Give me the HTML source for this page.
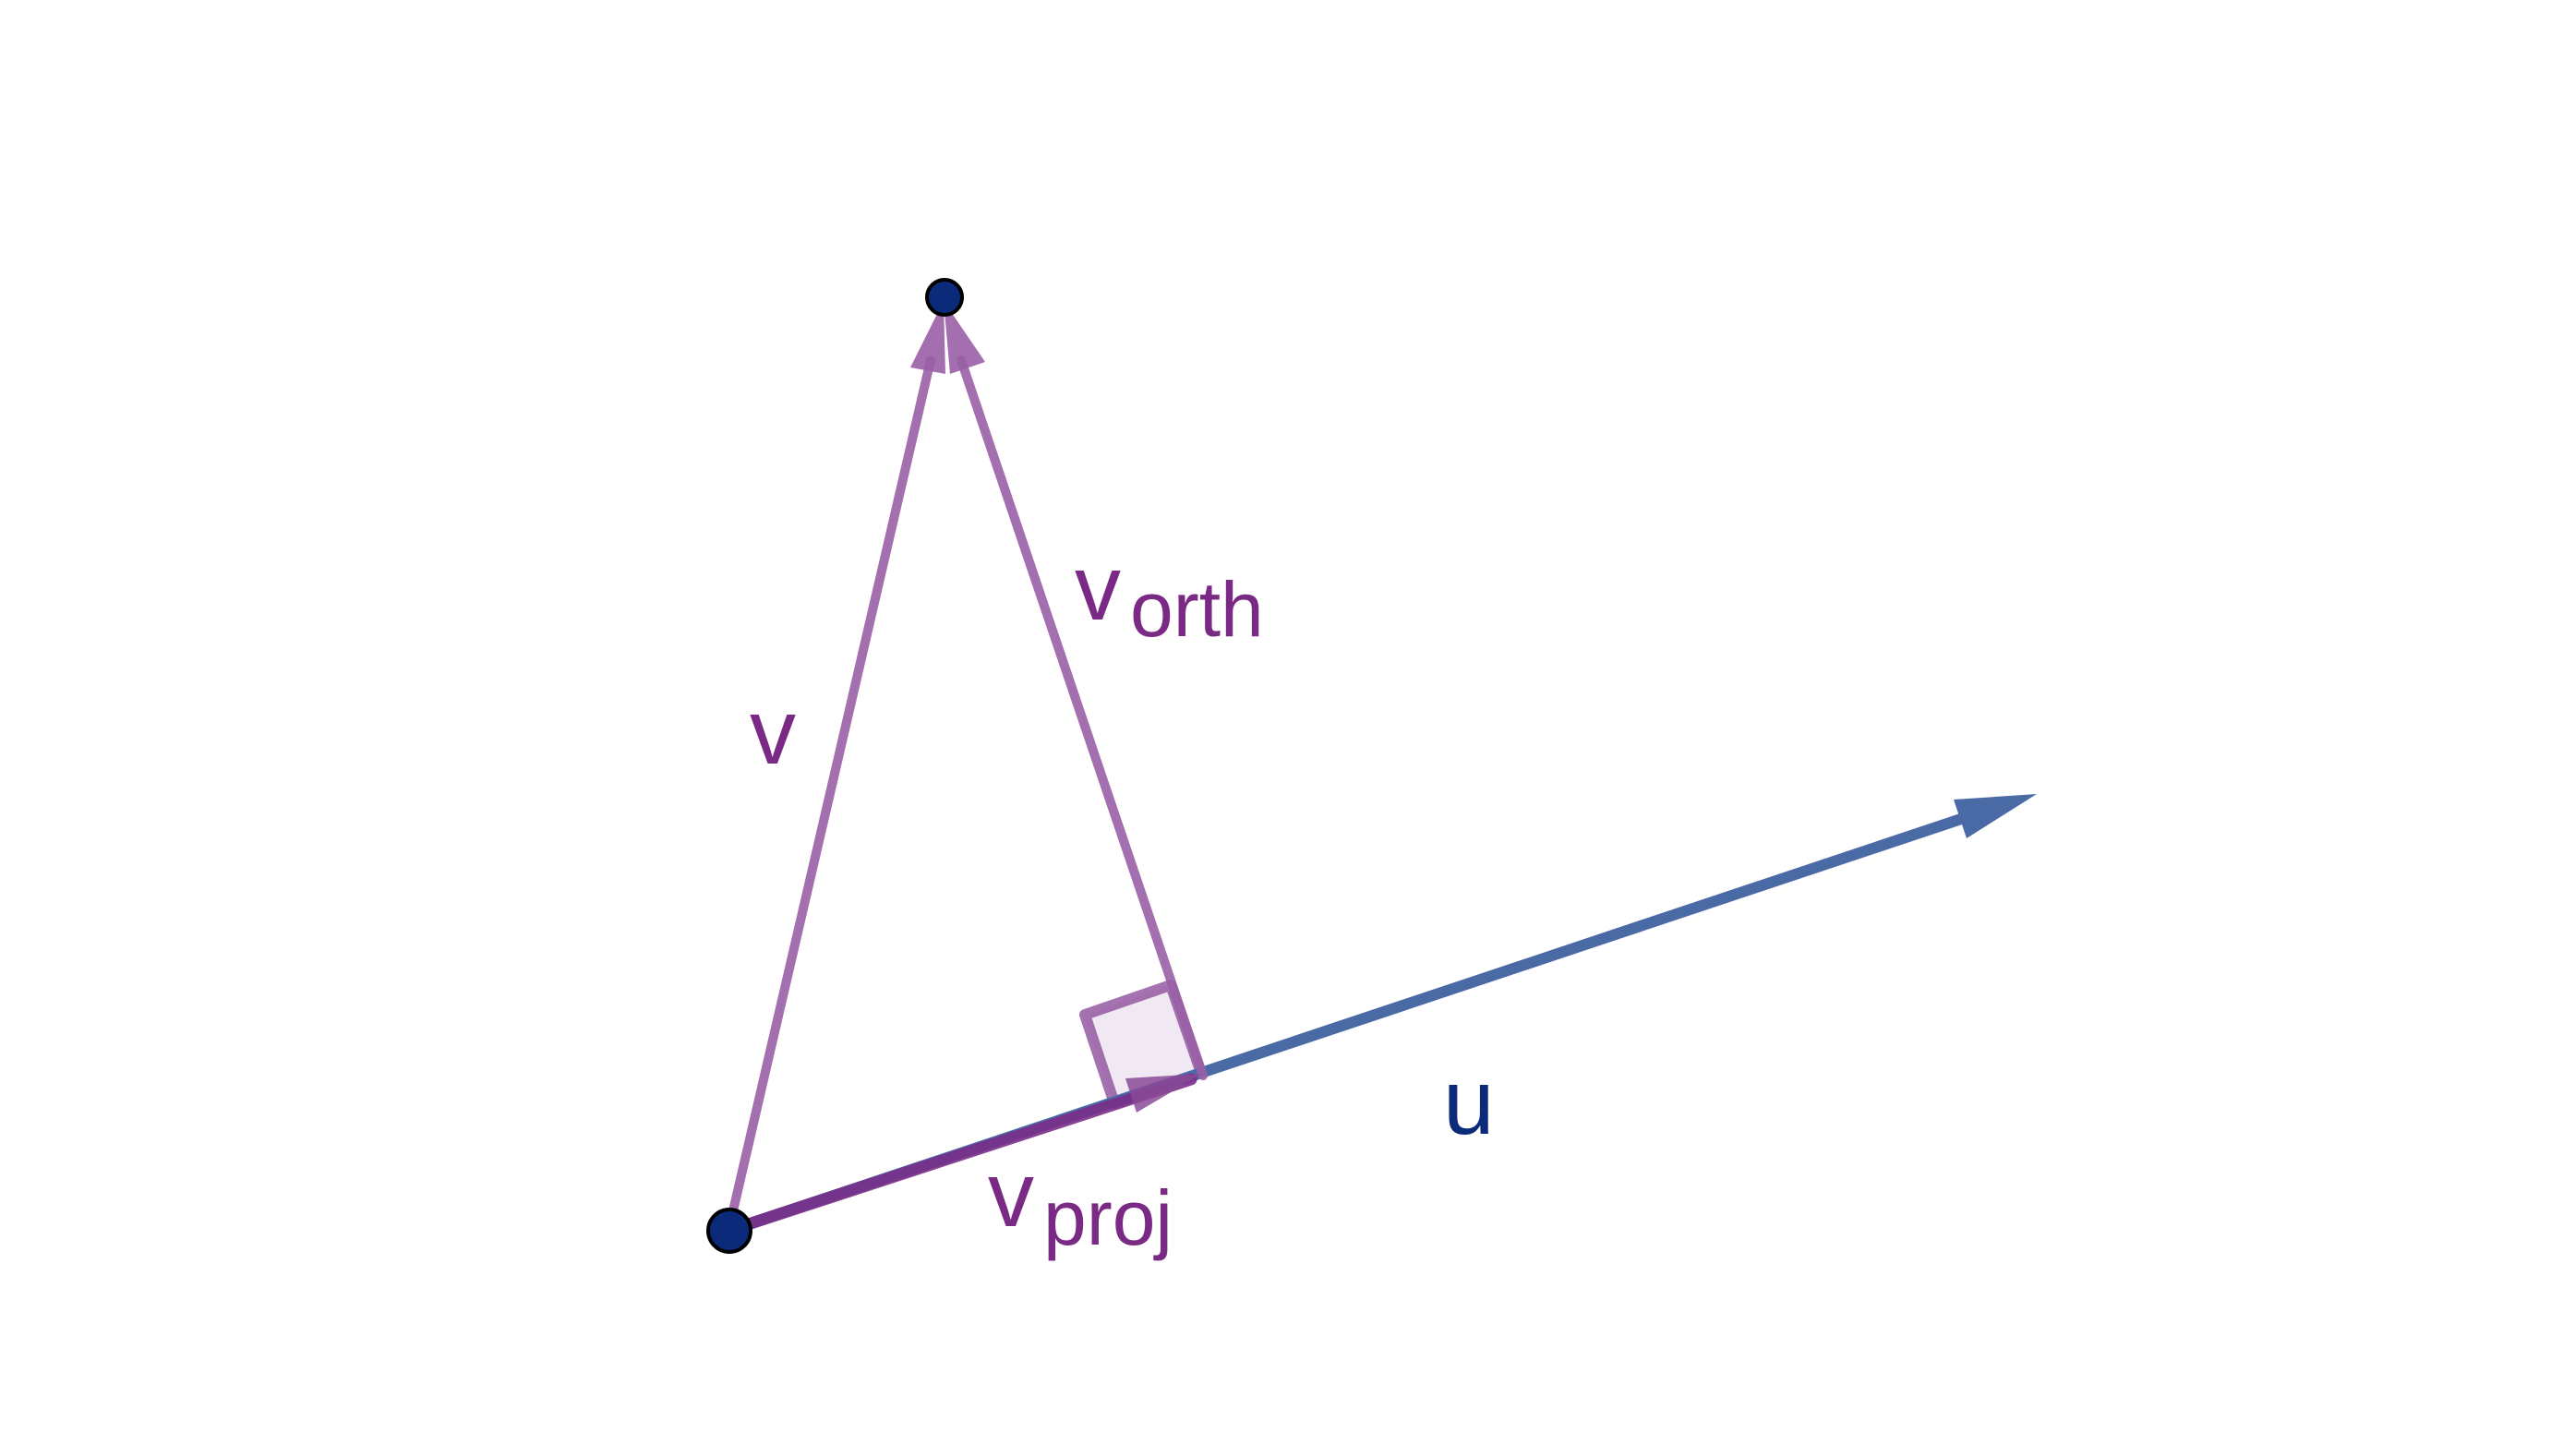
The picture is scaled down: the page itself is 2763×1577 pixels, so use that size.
<!DOCTYPE html>
<html><head><meta charset="utf-8"><style>html,body{margin:0;padding:0;background:#fff}svg{display:block}</style></head>
<body>
<svg width="2763" height="1577" viewBox="0 0 2763 1577" xmlns="http://www.w3.org/2000/svg">
<g stroke-linecap="round" stroke-linejoin="round">
<polygon points="1268,1067 1175,1099 1207,1195 1301,1162" fill="#f0e8f2" stroke="#8e4f9c" stroke-opacity="0.8" stroke-width="12"/>
<line x1="789" y1="1333" x2="2133" y2="884" stroke="#4a6aa6" stroke-width="12"/>
<polygon points="2206,860 2116,866 2130,908" fill="#4a6aa6"/>
<line x1="789" y1="1333" x2="1008" y2="390" stroke="#9a5fa6" stroke-opacity="0.9" stroke-width="10"/>
<polygon points="1022,326 986,398 1024,405" fill="#9a5fa6" fill-opacity="0.9"/>
<line x1="1303" y1="1165" x2="1041" y2="390" stroke="#9a5fa6" stroke-opacity="0.9" stroke-width="10"/>
<polygon points="1022,326 1029,405 1067,392" fill="#9a5fa6" fill-opacity="0.9"/>
<line x1="789" y1="1333" x2="1290" y2="1169" stroke="#7a2f88" stroke-opacity="0.9" stroke-width="13"/>
<polygon points="1302,1163 1219,1168 1231,1205" fill="#8a4a98" fill-opacity="0.85"/>
</g>
<circle cx="790" cy="1333" r="23" fill="#0b2a7a" stroke="#000" stroke-width="4"/>
<circle cx="1023" cy="322" r="19" fill="#0b2a7a" stroke="#000" stroke-width="4"/>
<g font-family="'Liberation Sans',sans-serif" fill="#7a2a84">
<text x="812" y="827" font-size="100">v</text>
<text x="1164" y="671" font-size="100">v</text>
<text x="1224" y="689" font-size="84">orth</text>
<text x="1070" y="1328" font-size="100">v</text>
<text x="1130" y="1348" font-size="84">proj</text>
<text x="1563" y="1228" font-size="100" fill="#0b2a7a">u</text>
</g>
</svg>
</body></html>
